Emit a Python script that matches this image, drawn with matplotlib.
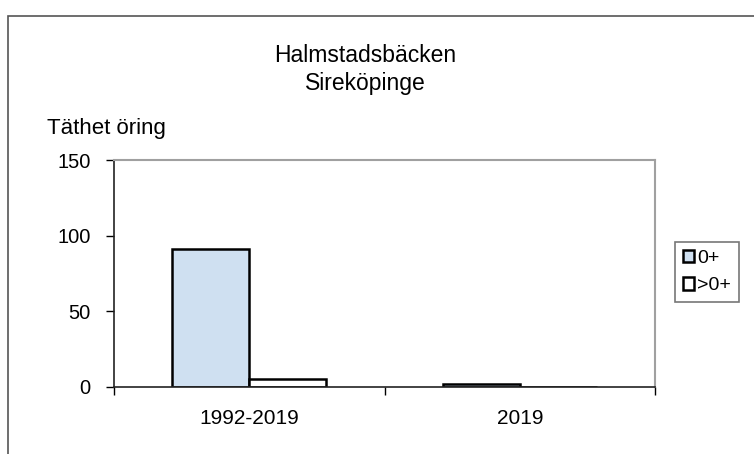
import matplotlib.pyplot as plt
import numpy as np
from matplotlib.patches import Rectangle

plt.rcParams['font.family'] = ['Liberation Sans', 'DejaVu Sans']

categories = ['1992-2019', '2019']
series_names = ['0+', '>0+']
values_0 = [91, 2]
values_gt0 = [5, 0]
colors = ['#cfe0f1', '#ffffff']

fig = plt.figure(figsize=(7.54, 4.54), dpi=100)
# outer chart frame
fig.add_artist(Rectangle((8 / 754, -0.1), 1.2, (454 - 16) / 454 + 0.1,
                         transform=fig.transFigure, fill=False,
                         edgecolor='#555555', linewidth=1.2))

ax = fig.add_axes([114 / 754, 1 - 387 / 454, (655 - 114) / 754, (387 - 160) / 454])

x = np.arange(len(categories))
w = 0.285
ax.bar(x - w / 2, values_0, w, color=colors[0], edgecolor='black', linewidth=1.8, label=series_names[0])
ax.bar(x + w / 2, values_gt0, w, color=colors[1], edgecolor='black', linewidth=1.8, label=series_names[1])

ax.set_xlim(-0.5, 1.5)
ax.set_ylim(0, 150)
ax.set_yticks([0, 50, 100, 150])
ax.set_xticks(x)
ax.set_xticklabels(categories)
ax.set_xticks([-0.5, 0.5, 1.5], minor=True)
ax.tick_params(axis='x', which='major', length=0, pad=16, labelsize=15)
ax.tick_params(axis='x', which='minor', length=6, width=1, direction='out')
ax.tick_params(axis='y', length=6, width=1, direction='out', labelsize=14.5, pad=11)

for s in ['top', 'right']:
    ax.spines[s].set_color('#a0a0a0')
    ax.spines[s].set_linewidth(1.5)
for s in ['left', 'bottom']:
    ax.spines[s].set_color('#222222')
    ax.spines[s].set_linewidth(1.2)

fig.text(365 / 754, 1 - 62 / 454, 'Halmstadsbäcken', ha='center', va='baseline', fontsize=16.5)
fig.text(365 / 754, 1 - 90 / 454, 'Sireköpinge', ha='center', va='baseline', fontsize=16.5)
fig.text(47 / 754, 1 - 134 / 454, 'Täthet öring', ha='left', va='baseline', fontsize=16)

leg = fig.legend(loc='center', bbox_to_anchor=(707 / 754, 1 - 272 / 454), fontsize=14,
                 handlelength=0.6, handleheight=0.6, handletextpad=0.15,
                 fancybox=False, borderpad=0.4, labelspacing=0.55, borderaxespad=0)
leg.get_frame().set_edgecolor('#555555')
leg.get_frame().set_linewidth(1.2)

plt.savefig('out.png', dpi=100)
